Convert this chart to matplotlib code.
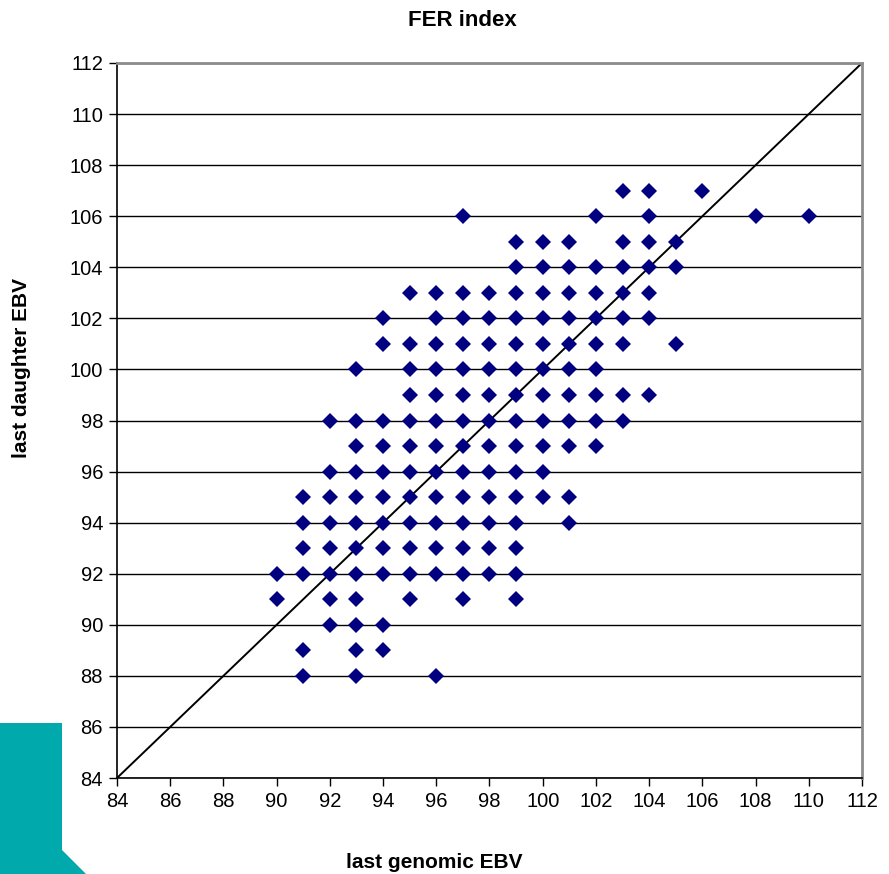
import matplotlib
matplotlib.use("Agg")
from matplotlib import pyplot as plt
from matplotlib.patches import Polygon
import numpy as np

# last daughter EBV value -> last genomic EBV values seen on that row
rows = {
    107: [103, 104, 106],
    106: [97, 102, 104, 108, 110],
    105: [99, 100, 101, 103, 104, 105],
    104: [99, 100, 101, 102, 103, 104, 105],
    103: [95, 96, 97, 98, 99, 100, 101, 102, 103, 104],
    102: [94, 96, 97, 98, 99, 100, 101, 102, 103, 104],
    101: [94, 95, 96, 97, 98, 99, 100, 101, 102, 103, 105],
    100: [93, 95, 96, 97, 98, 99, 100, 101, 102],
    99: [95, 96, 97, 98, 99, 100, 101, 102, 103, 104],
    98: [92, 93, 94, 95, 96, 97, 98, 99, 100, 101, 102, 103],
    97: [93, 94, 95, 96, 97, 98, 99, 100, 101, 102],
    96: [92, 93, 94, 95, 96, 97, 98, 99, 100],
    95: [91, 92, 93, 94, 95, 96, 97, 98, 99, 100, 101],
    94: [91, 92, 93, 94, 95, 96, 97, 98, 99, 101],
    93: [91, 92, 93, 94, 95, 96, 97, 98, 99],
    92: [90, 91, 92, 93, 94, 95, 96, 97, 98, 99],
    91: [90, 92, 93, 95, 97, 99],
    90: [92, 93, 94],
    89: [91, 93, 94],
    88: [91, 93, 96],
}
genomic = [g for d, gs in rows.items() for g in gs]
daughter = [d for d, gs in rows.items() for g in gs]

axis_min, axis_max = 84, 112
ticks = list(range(84, 113, 2))

plt.rcParams['font.family'] = ['Liberation Sans', 'DejaVu Sans']

W, H = 889, 874
fig = plt.figure(figsize=(W / 100, H / 100), dpi=100)

# teal decoration in the lower left corner
deco = Polygon([(0, 0), (0, 1 - 723 / H), (62 / W, 1 - 723 / H),
                (62 / W, 1 - 850 / H), (86 / W, 0)],
               closed=True, transform=fig.transFigure,
               facecolor='#00A9AC', edgecolor='none', zorder=0)
fig.patches.append(deco)

ax = fig.add_axes([117 / W, 1 - 778 / H, (862 - 117) / W, (778 - 63) / H])
ax.set_xlim(axis_min, axis_max)
ax.set_ylim(axis_min, axis_max)
ax.set_xticks(ticks)
ax.set_yticks(ticks)
ax.tick_params(labelsize=14.5, direction='out', length=6, width=1, pad=4)
ax.yaxis.grid(True, color='black', linewidth=1)
ax.set_axisbelow(True)

for s in ['left', 'bottom']:
    ax.spines[s].set_color('black')
    ax.spines[s].set_linewidth(1.2)
for s in ['top', 'right']:
    ax.spines[s].set_color('#8c8c8c')
    ax.spines[s].set_linewidth(2)

ax.plot([axis_min, axis_max], [axis_min, axis_max], color='black', lw=1.4, zorder=2)
ax.plot(genomic, daughter, linestyle='none', marker='D', markersize=8.5,
        color='#000080', markeredgewidth=0, zorder=3, clip_on=False)

fig.text(462 / W, 1 - 20 / H, 'FER index', ha='center', va='center',
         fontsize=16, fontweight='bold', fontstretch='condensed',
         family=['Liberation Sans Narrow', 'Liberation Sans'])
fig.text(434 / W, 1 - 862 / H, 'last genomic EBV', ha='center', va='center',
         fontsize=15, fontweight='bold')
fig.text(22 / W, 1 - 368 / H, 'last daughter EBV', ha='center', va='center',
         rotation=90, fontsize=15, fontweight='bold')

fig.savefig('out.png', dpi=100)
